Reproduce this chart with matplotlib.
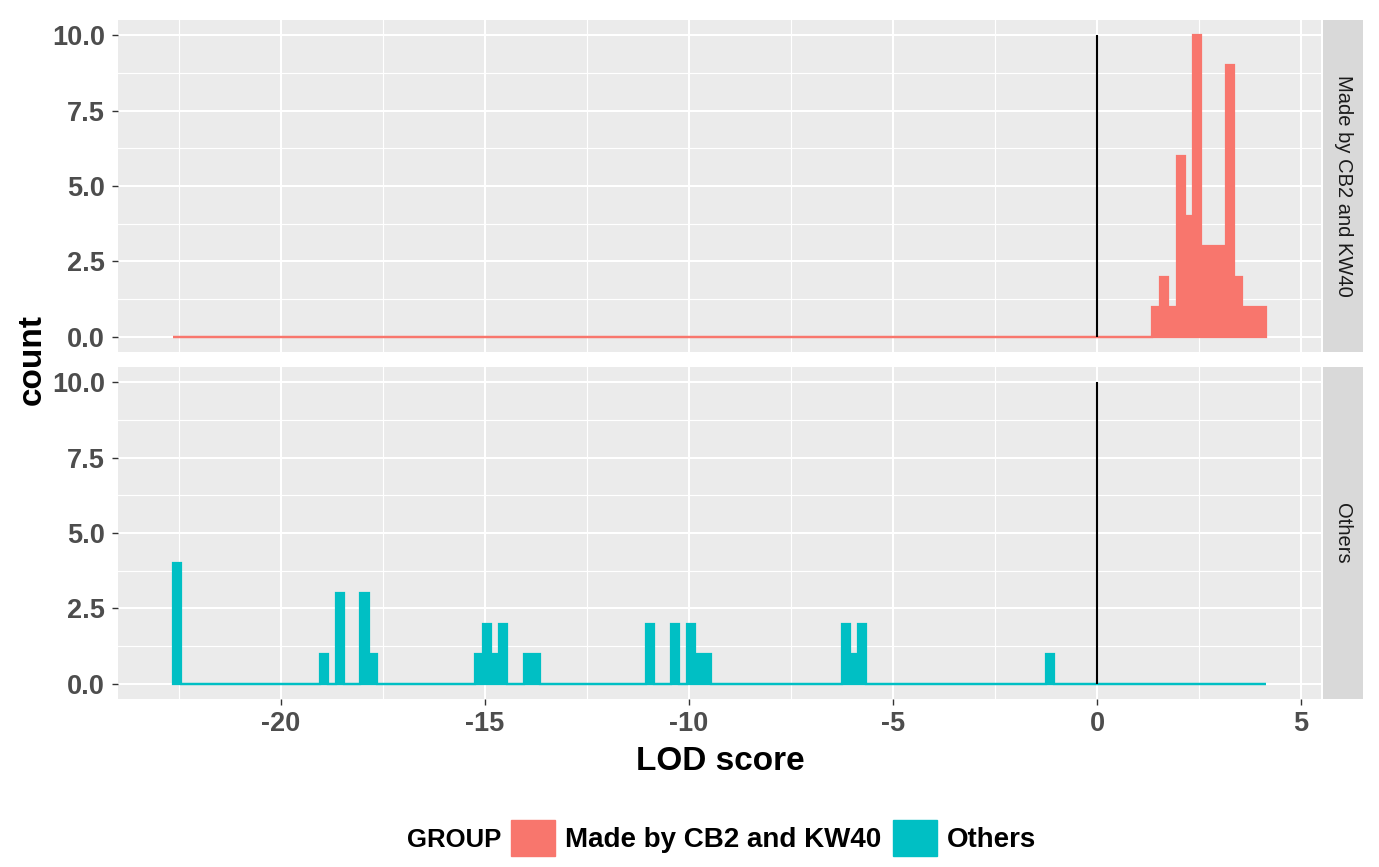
import numpy as np
import matplotlib.pyplot as plt
from matplotlib.patches import Patch

plt.rcParams['font.family'] = ['Liberation Sans', 'DejaVu Sans']
plt.rcParams['axes.unicode_minus'] = False

# histogram bins (LOD score), width 0.2
bin_edges = np.linspace(-22.65, 4.15, 135)

# bin centres and counts (non-empty bins only)
made_lod = [1.45, 1.65, 1.85, 2.05, 2.25, 2.45, 2.65, 2.85, 3.05, 3.25, 3.45, 3.65, 3.85, 4.05]
made_count = [1, 2, 1, 6, 4, 10, 3, 3, 3, 9, 2, 1, 1, 1]

others_lod = [-22.55, -18.95, -18.55, -17.95, -17.75, -15.15, -14.95, -14.75, -14.55,
              -13.95, -13.75, -10.95, -10.35, -9.95, -9.75, -9.55, -6.15, -5.95, -5.75, -1.15]
others_count = [4, 1, 3, 3, 1, 1, 2, 1, 2, 1, 1, 2, 2, 2, 1, 1, 2, 1, 2, 1]

groups = ["Made by CB2 and KW40", "Others"]
colors = ["#F8766D", "#00BFC4"]

W, H = 1379, 867
fig = plt.figure(figsize=(W / 100, H / 100), dpi=100)


def px_axes(left, top, right, bottom):
    return fig.add_axes([left / W, 1 - bottom / H, (right - left) / W, (bottom - top) / H])


panel_rows = [(20, 352), (367, 699)]
data = [(made_lod, made_count), (others_lod, others_count)]

for i, (grp, col, (top, bot), (lod, cnt)) in enumerate(zip(groups, colors, panel_rows, data)):
    ax = px_axes(118, top, 1321, bot)
    ax.set_facecolor('#EBEBEB')
    for s in ax.spines.values():
        s.set_visible(False)
    ax.hist(lod, bins=bin_edges, weights=cnt, histtype='stepfilled',
            facecolor=col, edgecolor=col, linewidth=1.6, zorder=2)
    ax.vlines(0, 0, 10, color='black', linewidth=1.5, zorder=3)

    ax.set_xlim(-23.99, 5.49)
    ax.set_ylim(-0.5, 10.5)
    ax.set_xticks([-20, -15, -10, -5, 0, 5])
    ax.set_xticks(np.arange(-22.5, 5, 5), minor=True)
    ax.set_yticks([0, 2.5, 5, 7.5, 10])
    ax.set_yticks([1.25, 3.75, 6.25, 8.75], minor=True)
    ax.set_yticklabels(["0.0", "2.5", "5.0", "7.5", "10.0"])
    ax.grid(which='major', color='white', linewidth=1.5)
    ax.grid(which='minor', color='white', linewidth=0.8)
    ax.set_axisbelow(True)
    ax.tick_params(which='minor', length=0)
    ax.tick_params(axis='y', length=4.5, width=1, color='#333333', pad=5,
                   labelsize=19.5, labelcolor='#4D4D4D')
    for lab in ax.get_yticklabels():
        lab.set_fontweight('bold')
    if i == 0:
        ax.tick_params(axis='x', length=0, labelbottom=False)
    else:
        ax.tick_params(axis='x', length=4.5, width=1, color='#333333', pad=4,
                       labelsize=19.5, labelcolor='#4D4D4D')
        for lab in ax.get_xticklabels():
            lab.set_fontweight('bold')

    strip = px_axes(1323, top, 1363, bot)
    strip.set_facecolor('#D9D9D9')
    strip.set_xticks([])
    strip.set_yticks([])
    for s in strip.spines.values():
        s.set_visible(False)
    strip.text(0.5, 0.5, grp, rotation=-90, ha='center', va='center',
               fontsize=14.5, color='#1A1A1A', transform=strip.transAxes)

fig.text(32 / W, 1 - 360 / H, "count", rotation=90, ha='center', va='center',
         fontsize=24, fontweight='bold')
fig.text(720 / W, 1 - 762 / H, "LOD score", ha='center', va='center',
         fontsize=24, fontweight='bold')

fig.text(407 / W, 1 - 840 / H, "GROUP", ha='left', va='center',
         fontsize=18.5, fontweight='bold')
handles = [Patch(facecolor=c, edgecolor=c) for c in colors]
leg = fig.legend(handles, groups, loc='center left', bbox_to_anchor=(511 / W, 1 - 838 / H),
                 ncol=2, frameon=False, handlelength=1.6, handleheight=1.6,
                 handletextpad=0.35, columnspacing=0.4, borderpad=0, borderaxespad=0,
                 prop={'size': 20, 'weight': 'bold'})

fig.savefig("out.png", dpi=100)
